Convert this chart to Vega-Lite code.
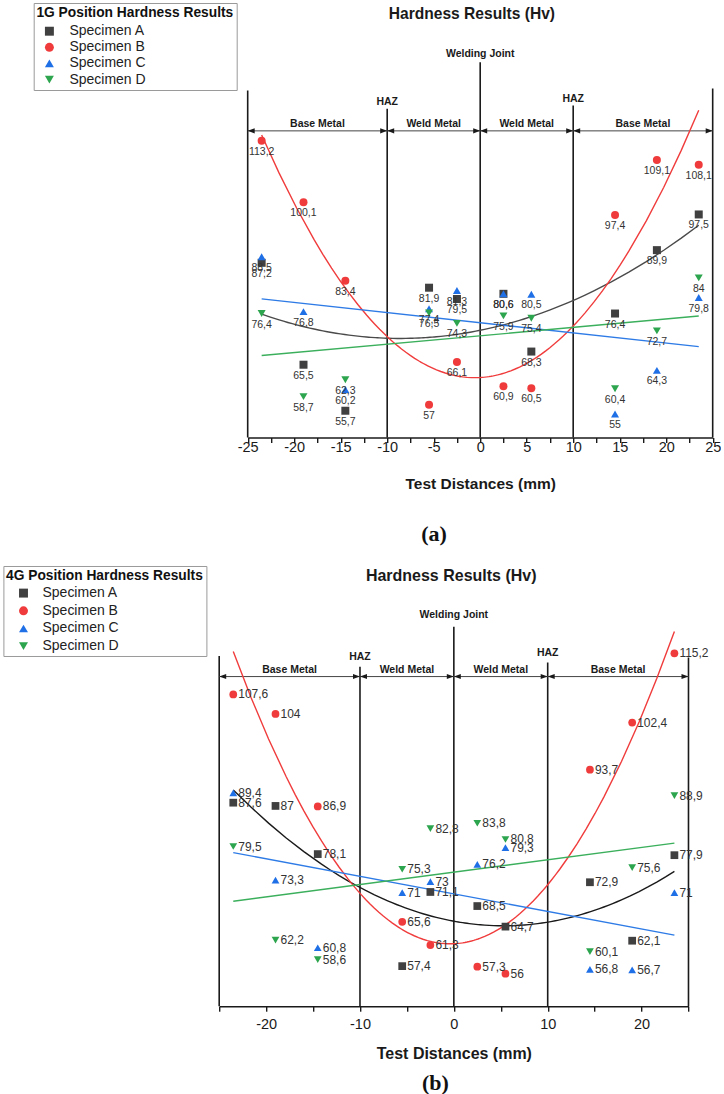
{
  "$schema": "https://vega.github.io/schema/vega-lite/v6.json",
  "background": "white",
  "padding": {"left": 2.2, "top": 2, "right": 0, "bottom": 0},
  "spacing": 20,
  "resolve": {"scale": {"color": "independent", "shape": "independent", "stroke": "independent"}, "legend": {"color": "independent", "shape": "independent"}},
  "config": {
    "view": {"stroke": null},
    "font": "Liberation Sans",
    "locale": {"number": {"decimal": ",", "thousands": ".", "grouping": [3], "currency": ["", ""], "minus": "-"}}
  },
  "datasets": {
    "ptsA": [
      {"x": -23.5, "y": 87.2, "specimen": "Specimen A"}, {"x": -19, "y": 65.5, "specimen": "Specimen A"}, {"x": -14.5, "y": 55.7, "specimen": "Specimen A"}, {"x": -5.5, "y": 81.9, "specimen": "Specimen A"}, {"x": -2.5, "y": 79.5, "specimen": "Specimen A"}, {"x": 2.5, "y": 80.6, "specimen": "Specimen A"}, {"x": 5.5, "y": 68.3, "specimen": "Specimen A"}, {"x": 14.5, "y": 76.4, "specimen": "Specimen A"}, {"x": 19, "y": 89.9, "specimen": "Specimen A"}, {"x": 23.5, "y": 97.5, "specimen": "Specimen A"},
      {"x": -23.5, "y": 113.2, "specimen": "Specimen B"}, {"x": -19, "y": 100.1, "specimen": "Specimen B"}, {"x": -14.5, "y": 83.4, "specimen": "Specimen B"}, {"x": -5.5, "y": 57, "specimen": "Specimen B"}, {"x": -2.5, "y": 66.1, "specimen": "Specimen B"}, {"x": 2.5, "y": 60.9, "specimen": "Specimen B"}, {"x": 5.5, "y": 60.5, "specimen": "Specimen B"}, {"x": 14.5, "y": 97.4, "specimen": "Specimen B"}, {"x": 19, "y": 109.1, "specimen": "Specimen B"}, {"x": 23.5, "y": 108.1, "specimen": "Specimen B"},
      {"x": -23.5, "y": 88.5, "specimen": "Specimen C"}, {"x": -19, "y": 76.8, "specimen": "Specimen C"}, {"x": -14.5, "y": 60.2, "specimen": "Specimen C"}, {"x": -5.5, "y": 77.4, "specimen": "Specimen C"}, {"x": -2.5, "y": 81.3, "specimen": "Specimen C"}, {"x": 2.5, "y": 80.6, "specimen": "Specimen C"}, {"x": 5.5, "y": 80.5, "specimen": "Specimen C"}, {"x": 14.5, "y": 55, "specimen": "Specimen C"}, {"x": 19, "y": 64.3, "specimen": "Specimen C"}, {"x": 23.5, "y": 79.8, "specimen": "Specimen C"},
      {"x": -23.5, "y": 76.4, "specimen": "Specimen D"}, {"x": -19, "y": 58.7, "specimen": "Specimen D"}, {"x": -14.5, "y": 62.3, "specimen": "Specimen D"}, {"x": -5.5, "y": 76.5, "specimen": "Specimen D"}, {"x": -2.5, "y": 74.3, "specimen": "Specimen D"}, {"x": 2.5, "y": 75.9, "specimen": "Specimen D"}, {"x": 5.5, "y": 75.4, "specimen": "Specimen D"}, {"x": 14.5, "y": 60.4, "specimen": "Specimen D"}, {"x": 19, "y": 72.7, "specimen": "Specimen D"}, {"x": 23.5, "y": 84, "specimen": "Specimen D"}
    ],
    "ptsB": [
      {"x": -23.5, "y": 87.6, "specimen": "Specimen A"}, {"x": -19, "y": 87, "specimen": "Specimen A"}, {"x": -14.5, "y": 78.1, "specimen": "Specimen A"}, {"x": -5.5, "y": 57.4, "specimen": "Specimen A"}, {"x": -2.5, "y": 71.1, "specimen": "Specimen A"}, {"x": 2.5, "y": 68.5, "specimen": "Specimen A"}, {"x": 5.5, "y": 64.7, "specimen": "Specimen A"}, {"x": 14.5, "y": 72.9, "specimen": "Specimen A"}, {"x": 19, "y": 62.1, "specimen": "Specimen A"}, {"x": 23.5, "y": 77.9, "specimen": "Specimen A"},
      {"x": -23.5, "y": 107.6, "specimen": "Specimen B"}, {"x": -19, "y": 104, "specimen": "Specimen B"}, {"x": -14.5, "y": 86.9, "specimen": "Specimen B"}, {"x": -5.5, "y": 65.6, "specimen": "Specimen B"}, {"x": -2.5, "y": 61.3, "specimen": "Specimen B"}, {"x": 2.5, "y": 57.3, "specimen": "Specimen B"}, {"x": 5.5, "y": 56, "specimen": "Specimen B"}, {"x": 14.5, "y": 93.7, "specimen": "Specimen B"}, {"x": 19, "y": 102.4, "specimen": "Specimen B"}, {"x": 23.5, "y": 115.2, "specimen": "Specimen B"},
      {"x": -23.5, "y": 89.4, "specimen": "Specimen C"}, {"x": -19, "y": 73.3, "specimen": "Specimen C"}, {"x": -14.5, "y": 60.8, "specimen": "Specimen C"}, {"x": -5.5, "y": 71, "specimen": "Specimen C"}, {"x": -2.5, "y": 73, "specimen": "Specimen C"}, {"x": 2.5, "y": 76.2, "specimen": "Specimen C"}, {"x": 5.5, "y": 79.3, "specimen": "Specimen C"}, {"x": 14.5, "y": 56.8, "specimen": "Specimen C"}, {"x": 19, "y": 56.7, "specimen": "Specimen C"}, {"x": 23.5, "y": 71, "specimen": "Specimen C"},
      {"x": -23.5, "y": 79.5, "specimen": "Specimen D"}, {"x": -19, "y": 62.2, "specimen": "Specimen D"}, {"x": -14.5, "y": 58.6, "specimen": "Specimen D"}, {"x": -5.5, "y": 75.3, "specimen": "Specimen D"}, {"x": -2.5, "y": 82.8, "specimen": "Specimen D"}, {"x": 2.5, "y": 83.8, "specimen": "Specimen D"}, {"x": 5.5, "y": 80.8, "specimen": "Specimen D"}, {"x": 14.5, "y": 60.1, "specimen": "Specimen D"}, {"x": 19, "y": 75.6, "specimen": "Specimen D"}, {"x": 23.5, "y": 88.9, "specimen": "Specimen D"}
    ]
  },
  "vconcat": [
    {
      "width": 493.5,
      "height": 347.5,
      "title": {"text": "(a)", "orient": "bottom", "frame": "group", "anchor": "middle", "dx": -32, "offset": 32, "font": "Liberation Serif", "fontSize": 22, "fontWeight": "bold", "color": "#111111"},
      "encoding": {
        "x": {"field": "x", "type": "quantitative",
          "scale": {"domain": [-25, 25], "range": [28.5, 493.5], "nice": false, "zero": false},
          "axis": {"values": [-25, -22.5, -20, -17.5, -15, -12.5, -10, -7.5, -5, -2.5, 0, 2.5, 5, 7.5, 10, 12.5, 15, 17.5, 20, 22.5, 25],
            "labelExpr": "datum.value % 5 === 0 ? '' + datum.value : ''",
            "title": "Test Distances (mm)", "grid": false,
            "domainColor": "#1a1a1a", "domainWidth": 1.6, "tickColor": "#1a1a1a", "tickWidth": 1.4, "tickSize": 5,
            "labelFont": "Liberation Sans", "labelFontSize": 14.5, "labelColor": "#1a1a1a", "labelPadding": -2, "labelOverlap": false, "labelFlush": false,
            "titleFont": "Liberation Sans", "titleFontSize": 15.5, "titleFontWeight": "bold", "titleColor": "#1a1a1a", "titlePadding": 22}},
        "y": {"field": "y", "type": "quantitative",
          "scale": {"domain": [50, 124], "nice": false, "zero": false},
          "axis": {"title": "Hardness Results (Hv)", "domain": false, "ticks": false, "labels": false, "grid": false,
            "titleAngle": 0, "titleX": 252.2, "titleY": -77, "titleAlign": "center", "titleBaseline": "middle",
            "titleFont": "Liberation Sans", "titleFontSize": 15.6, "titleFontWeight": "bold", "titleColor": "#1a1a1a"}}
      },
      "layer": [
        {
          "data": {"values": [{"x": -25, "y": 50, "y2": 123.9}, {"x": 25, "y": 50, "y2": 124.3}, {"x": -10, "y": 50, "y2": 120}, {"x": 10, "y": 50, "y2": 120.7}, {"x": 0, "y": 50, "y2": 129.9}]},
          "mark": {"type": "rule", "color": "#1a1a1a", "strokeWidth": 1.6},
          "encoding": {"y2": {"field": "y2"}}
        },
        {
          "data": {"values": [{"x": -25, "x2": 25, "y": 115.3}]},
          "mark": {"type": "rule", "color": "#444444", "strokeWidth": 1},
          "encoding": {"x2": {"field": "x2"}}
        },
        {
          "data": {"values": [{"x": -25, "y": 115.3}, {"x": -10, "y": 115.3}, {"x": 0, "y": 115.3}, {"x": 10, "y": 115.3}]},
          "mark": {"type": "point", "shape": "M0,0L1,-0.36L1,0.36Z", "filled": true, "color": "#1a1a1a", "size": 196, "opacity": 1}
        },
        {
          "data": {"values": [{"x": -10, "y": 115.3}, {"x": 0, "y": 115.3}, {"x": 10, "y": 115.3}, {"x": 25, "y": 115.3}]},
          "mark": {"type": "point", "shape": "M0,0L-1,-0.36L-1,0.36Z", "filled": true, "color": "#1a1a1a", "size": 196, "opacity": 1}
        },
        {
          "data": {"values": [
            {"x": -17.5, "y": 116.8, "t": "Base Metal"}, {"x": -5, "y": 116.8, "t": "Weld Metal"}, {"x": 5, "y": 116.8, "t": "Weld Metal"}, {"x": 17.5, "y": 116.8, "t": "Base Metal"},
            {"x": -10, "y": 121.5, "t": "HAZ"}, {"x": 10, "y": 122.1, "t": "HAZ"}, {"x": 0, "y": 131.6, "t": "Welding Joint"}]},
          "mark": {"type": "text", "font": "Liberation Sans", "fontSize": 10.5, "fontWeight": "bold", "color": "#1a1a1a", "baseline": "middle"},
          "encoding": {"text": {"field": "t"}}
        },
        {
          "data": {"name": "ptsA"},
          "transform": [
            {"filter": {"field": "specimen", "oneOf": ["Specimen A", "Specimen B"]}},
            {"regression": "y", "on": "x", "groupby": ["specimen"], "method": "poly", "order": 2, "extent": [-23.5, 23.5]}
          ],
          "mark": {"type": "line", "strokeWidth": 1.4},
          "encoding": {"stroke": {"field": "specimen", "type": "nominal", "scale": {"range": ["#4a4a4a", "#F03C3C", "#2E7BE6", "#3BAF5C"]}, "legend": null}}
        },
        {
          "data": {"name": "ptsA"},
          "transform": [
            {"filter": {"field": "specimen", "oneOf": ["Specimen C", "Specimen D"]}},
            {"regression": "y", "on": "x", "groupby": ["specimen"], "method": "linear", "extent": [-23.5, 23.5]}
          ],
          "mark": {"type": "line", "strokeWidth": 1.4},
          "encoding": {"stroke": {"field": "specimen", "type": "nominal", "scale": {"range": ["#4a4a4a", "#F03C3C", "#2E7BE6", "#3BAF5C"]}, "legend": null}}
        },
        {
          "data": {"name": "ptsA"},
          "mark": {"type": "point", "filled": true, "size": 64, "opacity": 1},
          "encoding": {
            "color": {"field": "specimen", "type": "nominal", "scale": {"domain": ["Specimen A", "Specimen B", "Specimen C", "Specimen D"], "range": ["#404040", "#EF3B3B", "#1F6FE6", "#2CA54E"]},
              "legend": {"title": "1G Position Hardness Results", "orient": "none", "legendX": -185.5, "legendY": -87, "padding": 2.7, "strokeColor": "#9a9a9a", "fillColor": "white",
                "titleFont": "Liberation Sans", "titleFontSize": 13.8, "titleFontWeight": "bold", "titleColor": "#111111", "titlePadding": 4.7, "titleLimit": 400, "labelLimit": 300,
                "labelFont": "Liberation Sans", "labelFontSize": 14, "labelColor": "#222222", "rowPadding": 2.1, "symbolOffset": 6, "labelOffset": 13, "symbolSize": 80, "symbolStrokeWidth": 0}},
            "shape": {"field": "specimen", "type": "nominal", "scale": {"domain": ["Specimen A", "Specimen B", "Specimen C", "Specimen D"], "range": ["square", "circle", "triangle-up", "triangle-down"]},
              "legend": {"title": "1G Position Hardness Results", "orient": "none", "legendX": -185.5, "legendY": -87, "padding": 2.7, "strokeColor": "#9a9a9a", "fillColor": "white",
                "titleFont": "Liberation Sans", "titleFontSize": 13.8, "titleFontWeight": "bold", "titleColor": "#111111", "titlePadding": 4.7, "titleLimit": 400, "labelLimit": 300,
                "labelFont": "Liberation Sans", "labelFontSize": 14, "labelColor": "#222222", "rowPadding": 2.1, "symbolOffset": 6, "labelOffset": 13, "symbolSize": 80, "symbolStrokeWidth": 0}}
          }
        },
        {
          "data": {"name": "ptsA"},
          "mark": {"type": "text", "font": "Liberation Sans", "fontSize": 10.5, "dy": 11, "color": "#333333", "baseline": "middle"},
          "encoding": {"text": {"field": "y", "type": "quantitative", "format": ".1~f"}}
        }
      ]
    },
    {
      "width": 469.3,
      "height": 350.2,
      "title": {"text": "(b)", "orient": "bottom", "frame": "group", "anchor": "middle", "dx": -18.5, "offset": 11, "font": "Liberation Serif", "fontSize": 22, "fontWeight": "bold", "color": "#111111"},
      "encoding": {
        "x": {"field": "x", "type": "quantitative",
          "scale": {"domain": [-25, 25], "nice": false, "zero": false},
          "axis": {"values": [-25, -20, -15, -10, -5, 0, 5, 10, 15, 20, 25],
            "labelExpr": "datum.value % 10 === 0 ? '' + datum.value : ''",
            "title": "Test Distances (mm)", "grid": false,
            "domainColor": "#1a1a1a", "domainWidth": 1.6, "tickColor": "#1a1a1a", "tickWidth": 1.4, "tickSize": 5,
            "labelFont": "Liberation Sans", "labelFontSize": 14.5, "labelColor": "#1a1a1a", "labelPadding": 6, "labelOverlap": false, "labelFlush": false,
            "titleFont": "Liberation Sans", "titleFontSize": 16, "titleFontWeight": "bold", "titleColor": "#1a1a1a", "titlePadding": 15}},
        "y": {"field": "y", "type": "quantitative",
          "scale": {"domain": [50, 114.7], "nice": false, "zero": false},
          "axis": {"title": "Hardness Results (Hv)", "domain": false, "ticks": false, "labels": false, "grid": false,
            "titleAngle": 0, "titleX": 231.5, "titleY": -80, "titleAlign": "center", "titleBaseline": "middle",
            "titleFont": "Liberation Sans", "titleFontSize": 16, "titleFontWeight": "bold", "titleColor": "#1a1a1a"}}
      },
      "layer": [
        {
          "data": {"values": [{"x": -25, "y": 50, "y2": 114.7}, {"x": 25, "y": 50, "y2": 114.4}, {"x": -10, "y": 50, "y2": 112.7}, {"x": 10, "y": 50, "y2": 113.5}, {"x": 0, "y": 50, "y2": 120.1}]},
          "mark": {"type": "rule", "color": "#1a1a1a", "strokeWidth": 1.6},
          "encoding": {"y2": {"field": "y2"}}
        },
        {
          "data": {"values": [{"x": -25, "x2": 25, "y": 110.9}]},
          "mark": {"type": "rule", "color": "#444444", "strokeWidth": 1},
          "encoding": {"x2": {"field": "x2"}}
        },
        {
          "data": {"values": [{"x": -25, "y": 110.9}, {"x": -10, "y": 110.9}, {"x": 0, "y": 110.9}, {"x": 10, "y": 110.9}]},
          "mark": {"type": "point", "shape": "M0,0L1,-0.36L1,0.36Z", "filled": true, "color": "#1a1a1a", "size": 196, "opacity": 1}
        },
        {
          "data": {"values": [{"x": -10, "y": 110.9}, {"x": 0, "y": 110.9}, {"x": 10, "y": 110.9}, {"x": 25, "y": 110.9}]},
          "mark": {"type": "point", "shape": "M0,0L-1,-0.36L-1,0.36Z", "filled": true, "color": "#1a1a1a", "size": 196, "opacity": 1}
        },
        {
          "data": {"values": [
            {"x": -17.5, "y": 112.1, "t": "Base Metal"}, {"x": -5, "y": 112.1, "t": "Weld Metal"}, {"x": 5, "y": 112.1, "t": "Weld Metal"}, {"x": 17.5, "y": 112.1, "t": "Base Metal"},
            {"x": -10, "y": 114.6, "t": "HAZ"}, {"x": 10, "y": 115.3, "t": "HAZ"}, {"x": 0, "y": 122.2, "t": "Welding Joint"}]},
          "mark": {"type": "text", "font": "Liberation Sans", "fontSize": 10.5, "fontWeight": "bold", "color": "#1a1a1a", "baseline": "middle"},
          "encoding": {"text": {"field": "t"}}
        },
        {
          "data": {"name": "ptsB"},
          "transform": [
            {"filter": {"field": "specimen", "oneOf": ["Specimen A", "Specimen B"]}},
            {"regression": "y", "on": "x", "groupby": ["specimen"], "method": "poly", "order": 2, "extent": [-23.5, 23.5]}
          ],
          "mark": {"type": "line", "strokeWidth": 1.4},
          "encoding": {"stroke": {"field": "specimen", "type": "nominal", "scale": {"range": ["#1a1a1a", "#F03C3C", "#2E7BE6", "#3BAF5C"]}, "legend": null}}
        },
        {
          "data": {"name": "ptsB"},
          "transform": [
            {"filter": {"field": "specimen", "oneOf": ["Specimen C", "Specimen D"]}},
            {"regression": "y", "on": "x", "groupby": ["specimen"], "method": "linear", "extent": [-23.5, 23.5]}
          ],
          "mark": {"type": "line", "strokeWidth": 1.4},
          "encoding": {"stroke": {"field": "specimen", "type": "nominal", "scale": {"range": ["#1a1a1a", "#F03C3C", "#2E7BE6", "#3BAF5C"]}, "legend": null}}
        },
        {
          "data": {"name": "ptsB"},
          "mark": {"type": "point", "filled": true, "size": 60, "opacity": 1},
          "encoding": {
            "color": {"field": "specimen", "type": "nominal", "scale": {"domain": ["Specimen A", "Specimen B", "Specimen C", "Specimen D"], "range": ["#404040", "#EF3B3B", "#1F6FE6", "#2CA54E"]},
              "legend": {"title": "4G Position Hardness Results", "orient": "none", "legendX": -215.8, "legendY": -90, "padding": 2.6, "strokeColor": "#9a9a9a", "fillColor": "white",
                "titleFont": "Liberation Sans", "titleFontSize": 13.8, "titleFontWeight": "bold", "titleColor": "#111111", "titlePadding": 3.7, "titleLimit": 400, "labelLimit": 300,
                "labelFont": "Liberation Sans", "labelFontSize": 14, "labelColor": "#222222", "rowPadding": 3.7, "symbolOffset": 10.5, "labelOffset": 12, "symbolSize": 80, "symbolStrokeWidth": 0}},
            "shape": {"field": "specimen", "type": "nominal", "scale": {"domain": ["Specimen A", "Specimen B", "Specimen C", "Specimen D"], "range": ["square", "circle", "triangle-up", "triangle-down"]},
              "legend": {"title": "4G Position Hardness Results", "orient": "none", "legendX": -215.8, "legendY": -90, "padding": 2.6, "strokeColor": "#9a9a9a", "fillColor": "white",
                "titleFont": "Liberation Sans", "titleFontSize": 13.8, "titleFontWeight": "bold", "titleColor": "#111111", "titlePadding": 3.7, "titleLimit": 400, "labelLimit": 300,
                "labelFont": "Liberation Sans", "labelFontSize": 14, "labelColor": "#222222", "rowPadding": 3.7, "symbolOffset": 10.5, "labelOffset": 12, "symbolSize": 80, "symbolStrokeWidth": 0}}
          }
        },
        {
          "data": {"name": "ptsB"},
          "mark": {"type": "text", "font": "Liberation Sans", "fontSize": 12, "dx": 5, "align": "left", "color": "#333333", "baseline": "middle"},
          "encoding": {"text": {"field": "y", "type": "quantitative", "format": ".1~f"}}
        }
      ]
    }
  ]
}
